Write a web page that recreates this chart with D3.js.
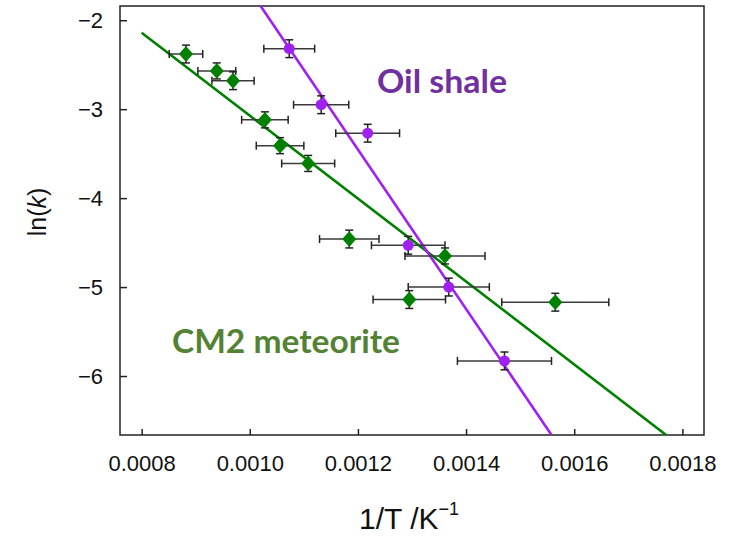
<!DOCTYPE html>
<html>
<head>
<meta charset="utf-8">
<script src="https://cdn.jsdelivr.net/npm/d3@7"></script>
<style>
  html, body { margin: 0; padding: 0; background: #fff; }
  svg { display: block; }
</style>
</head>
<body>
<svg id="chart" width="743" height="537"></svg>
<script>
// ---- Data ----
const xTicks = [0.0008, 0.0010, 0.0012, 0.0014, 0.0016, 0.0018];
const xTickLabels = ["0.0008", "0.0010", "0.0012", "0.0014", "0.0016", "0.0018"];
const yTicks = [-2, -3, -4, -5, -6];
const yTickLabels = ["\u22122", "\u22123", "\u22124", "\u22125", "\u22126"];

// CM2 meteorite (green diamonds)
const cmX    = [0.000882, 0.000939, 0.000969, 0.001028, 0.001056, 0.001108, 0.001184, 0.001295, 0.001361, 0.001565];
const cmY    = [-2.38, -2.57, -2.68, -3.12, -3.41, -3.61, -4.46, -5.14, -4.65, -5.17];
const cmXErr = [0.000031, 0.000035, 0.000039, 0.000043, 0.000044, 0.000049, 0.000055, 0.000067, 0.000074, 0.000099];
const cmYErr = [0.10, 0.09, 0.10, 0.09, 0.09, 0.09, 0.10, 0.10, 0.09, 0.10];

// Oil shale (purple circles)
const osX    = [0.001073, 0.001132, 0.001218, 0.001293, 0.001368, 0.001471];
const osY    = [-2.32, -2.95, -3.27, -4.53, -5.00, -5.83];
const osXErr = [0.000047, 0.000051, 0.000059, 0.000068, 0.000075, 0.000087];
const osYErr = [0.10, 0.10, 0.10, 0.10, 0.10, 0.10];

// Fit lines (end points)
const cmFitX = [0.0008, 0.00177];
const cmFitY = [-2.14, -6.663];
const osFitX = [0.00102, 0.001558];
const osFitY = [-1.84, -6.663];

// ---- Layout ----
const plot = { left: 120, right: 704, top: 6, bottom: 435 };
const svg = d3.select("#chart");

const x = d3.scaleLinear().domain([0.00076, 0.00184]).range([plot.left, plot.right]);
const y = d3.scaleLinear().domain([-1.84, -6.663]).range([plot.top, plot.bottom]);

const GREEN = "#008000";
const PURPLE = "#a020f0";

svg.append("defs").append("clipPath").attr("id", "clip")
  .append("rect")
  .attr("x", plot.left).attr("y", plot.top)
  .attr("width", plot.right - plot.left).attr("height", plot.bottom - plot.top);

// Axes with inward ticks
const xAxis = d3.axisBottom(x).tickValues(xTicks).tickSizeInner(-6).tickSizeOuter(0)
  .tickFormat((d, i) => xTickLabels[i]).tickPadding(20);
const gx = svg.append("g").attr("transform", `translate(0,${plot.bottom})`).call(xAxis);
gx.select(".domain").remove();
gx.selectAll(".tick line").attr("stroke", "#222").attr("stroke-width", 1.5);
gx.selectAll(".tick text").attr("font-family", "Liberation Sans, Arial, sans-serif")
  .attr("font-size", 22).attr("fill", "#111");

const yAxis = d3.axisLeft(y).tickValues(yTicks).tickSizeInner(-7).tickSizeOuter(0)
  .tickFormat((d, i) => yTickLabels[i]).tickPadding(17);
const gy = svg.append("g").attr("transform", `translate(${plot.left},0)`).call(yAxis);
gy.select(".domain").remove();
gy.selectAll(".tick line").attr("stroke", "#222").attr("stroke-width", 1.5);
gy.selectAll(".tick text").attr("font-family", "Liberation Sans, Arial, sans-serif")
  .attr("font-size", 22).attr("fill", "#111");

// Frame
svg.append("rect")
  .attr("x", plot.left).attr("y", plot.top)
  .attr("width", plot.right - plot.left).attr("height", plot.bottom - plot.top)
  .attr("fill", "none").attr("stroke", "#222").attr("stroke-width", 1.5);

const gData = svg.append("g").attr("clip-path", "url(#clip)");

// Fit lines
const line = d3.line().x(d => x(d[0])).y(d => y(d[1]));
gData.append("path").datum(d3.zip(cmFitX, cmFitY))
  .attr("d", line).attr("fill", "none").attr("stroke", GREEN).attr("stroke-width", 2.6);
gData.append("path").datum(d3.zip(osFitX, osFitY))
  .attr("d", line).attr("fill", "none").attr("stroke", PURPLE).attr("stroke-width", 2.6);

// Error bars
function errorBars(xs, ys, xe, ye) {
  const g = gData.append("g").attr("stroke", "#222").attr("stroke-width", 1.5).attr("fill", "none");
  const cap = 4;
  xs.forEach((xv, i) => {
    const cx = x(xv), cy = y(ys[i]);
    const x0 = x(xv - xe[i]), x1 = x(xv + xe[i]);
    const y0 = y(ys[i] + ye[i]), y1 = y(ys[i] - ye[i]);
    g.append("line").attr("x1", x0).attr("x2", x1).attr("y1", cy).attr("y2", cy).attr("stroke", "#3a3a3a");
    g.append("line").attr("x1", x0).attr("x2", x0).attr("y1", cy - cap).attr("y2", cy + cap);
    g.append("line").attr("x1", x1).attr("x2", x1).attr("y1", cy - cap).attr("y2", cy + cap);
    g.append("line").attr("x1", cx).attr("x2", cx).attr("y1", y0).attr("y2", y1);
    g.append("line").attr("x1", cx - cap).attr("x2", cx + cap).attr("y1", y0).attr("y2", y0);
    g.append("line").attr("x1", cx - cap).attr("x2", cx + cap).attr("y1", y1).attr("y2", y1);
  });
}
errorBars(cmX, cmY, cmXErr, cmYErr);
errorBars(osX, osY, osXErr, osYErr);

// Markers: diamonds as squares rotated 45 degrees (slightly taller than wide)
const square = d3.symbol().type(d3.symbolSquare).size(100);
gData.append("g").selectAll("path").data(d3.zip(cmX, cmY)).join("path")
  .attr("d", square)
  .attr("transform", d => `translate(${x(d[0])},${y(d[1])}) scale(1,1.12) rotate(45)`)
  .attr("fill", GREEN);
gData.append("g").selectAll("circle").data(d3.zip(osX, osY)).join("circle")
  .attr("cx", d => x(d[0])).attr("cy", d => y(d[1])).attr("r", 5.5)
  .attr("fill", PURPLE);

// Annotations
svg.append("text").attr("x", 377).attr("y", 93)
  .attr("font-family", "Lato, 'Open Sans', sans-serif").attr("font-weight", "bold")
  .attr("font-size", 32).attr("fill", "#7030a0")
  .attr("textLength", 130).attr("lengthAdjust", "spacingAndGlyphs")
  .text("Oil shale");
svg.append("text").attr("x", 172).attr("y", 353)
  .attr("font-family", "Lato, 'Open Sans', sans-serif").attr("font-weight", "bold")
  .attr("font-size", 32).attr("fill", "#548235")
  .attr("textLength", 228).attr("lengthAdjust", "spacingAndGlyphs")
  .text("CM2 meteorite");

// Axis titles
const xt = svg.append("text").attr("x", 359).attr("y", 529)
  .attr("font-family", "Liberation Sans, Arial, sans-serif").attr("font-size", 30).attr("fill", "#111");
xt.append("tspan").text("1/T /K");
xt.append("tspan").attr("font-size", 18).attr("dy", -14).text("\u22121");

const yt = svg.append("text").attr("transform", "translate(46,212) rotate(-90)")
  .attr("text-anchor", "middle")
  .attr("font-family", "Liberation Sans, Arial, sans-serif").attr("font-size", 25).attr("fill", "#111");
yt.append("tspan").text("ln(");
yt.append("tspan").attr("font-style", "italic").text("k");
yt.append("tspan").text(")");
</script>
</body>
</html>
